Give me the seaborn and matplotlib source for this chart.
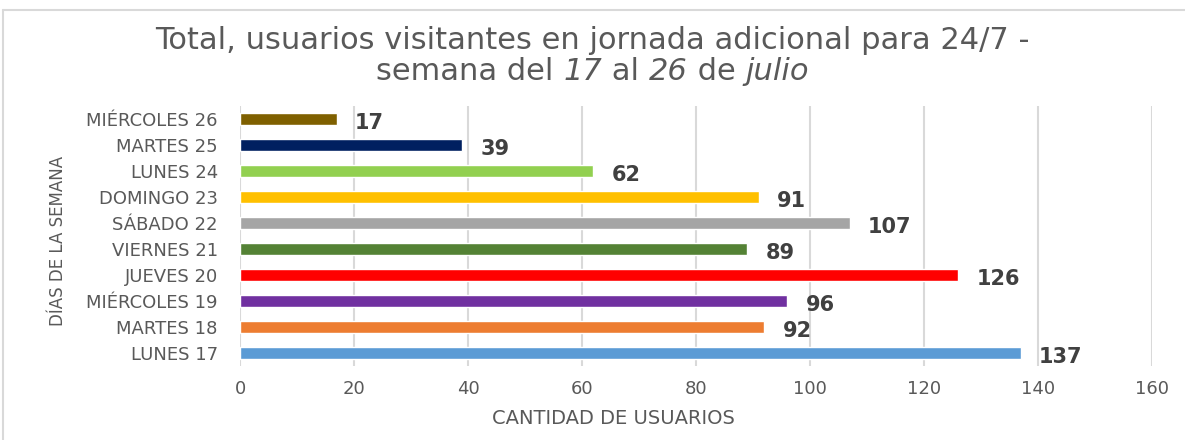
import pandas as pd
import matplotlib.pyplot as plt
import seaborn as sns
from matplotlib.lines import Line2D

# data (bottom to top as in the reference)
dias = ["LUNES 17", "MARTES 18", "MIÉRCOLES 19", "JUEVES 20", "VIERNES 21",
        "SÁBADO 22", "DOMINGO 23", "LUNES 24", "MARTES 25", "MIÉRCOLES 26"]
usuarios = [137, 92, 96, 126, 89, 107, 91, 62, 39, 17]
colores = ["#5B9BD5", "#ED7D31", "#7030A0", "#FF0000", "#548235",
           "#A5A5A5", "#FFC000", "#92D050", "#002060", "#7F6000"]

# seaborn draws top-to-bottom, so reverse
df = pd.DataFrame({"dia": dias[::-1], "usuarios": usuarios[::-1]})

sns.set_style("white")
plt.rcParams["font.family"] = ["DejaVu Sans"]

fig = plt.figure(figsize=(11.85, 4.4), dpi=100)
ax = fig.add_axes([240 / 1185, 1 - 366 / 440, (1152 - 240) / 1185, (366 - 106) / 440])

sns.barplot(data=df, x="usuarios", y="dia", hue="dia", palette=colores[::-1],
            saturation=1, width=0.45, legend=False, ax=ax, orient="h")

ax.set_xlim(0, 160)
ax.set_xticks(range(0, 161, 20))
ax.xaxis.grid(True, color="#D9D9D9", linewidth=1.5)
ax.set_axisbelow(True)
for s in ax.spines.values():
    s.set_visible(False)

ax.tick_params(axis="both", length=0, labelsize=13, colors="#595959")
ax.tick_params(axis="x", pad=10)
ax.tick_params(axis="y", pad=16)

for i, v in enumerate(df["usuarios"]):
    ax.text(v + 3.2, i + 0.14, str(v), va="center", ha="left", fontsize=15,
            fontweight="bold", color="#404040")

ax.set_xlabel("CANTIDAD DE USUARIOS", fontsize=14, color="#595959")
ax.xaxis.set_label_coords(0.41, -0.165)
ax.set_ylabel("DÍAS DE LA SEMANA", fontsize=12, color="#595959")
ax.yaxis.set_label_coords(-0.19, 0.48)

# title: first line plain, second line mixes upright and italic pieces
fig.text(0.5, 0.908, "Total, usuarios visitantes en jornada adicional para 24/7 -",
         ha="center", va="center", fontsize=22, color="#595959")
partes = [("semana del ", "normal"), ("17", "italic"), (" al ", "normal"),
          ("26", "italic"), (" de ", "normal"), ("julio", "italic")]
renderer = fig.canvas.get_renderer()
textos = []
x0 = 0
for txt, estilo in partes:
    t = fig.text(0, 0.838, txt, ha="left", va="center", fontsize=22,
                 style=estilo, color="#595959")
    textos.append(t)
anchos = [t.get_window_extent(renderer).width / fig.bbox.width for t in textos]
x = 0.5 - sum(anchos) / 2
for t, w in zip(textos, anchos):
    t.set_x(x)
    x += w

# light frame of the chart area
fig.add_artist(Line2D([3 / 1185, 1.0], [1 - 10 / 440, 1 - 10 / 440],
                      transform=fig.transFigure, color="#D9D9D9", linewidth=1.5))
fig.add_artist(Line2D([3 / 1185, 3 / 1185], [0, 1 - 10 / 440],
                      transform=fig.transFigure, color="#D9D9D9", linewidth=1.5))

fig.savefig("out.png", dpi=100)
